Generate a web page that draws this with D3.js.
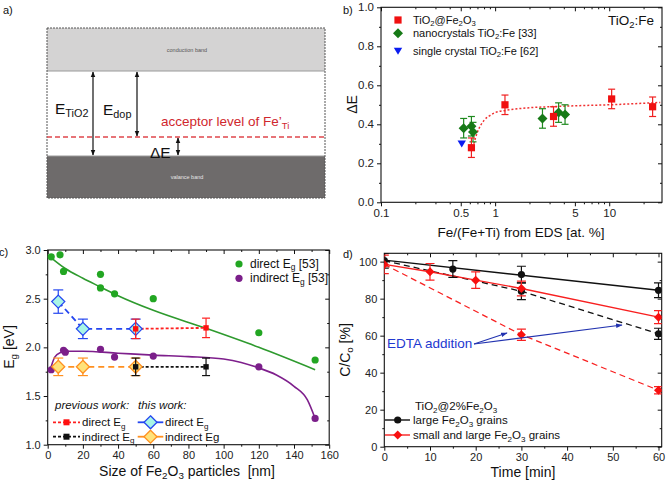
<!DOCTYPE html>
<html><head><meta charset="utf-8">
<script src="https://cdn.jsdelivr.net/npm/d3@7"></script>
<style>body{margin:0;background:#fff}svg{display:block}text{font-family:"Liberation Sans",Arial,sans-serif}</style>
</head><body><svg id="c" width="666" height="488"></svg>
<script>
// ---------- DATA ----------
// panel b
const bRedX = [0.62, 1.22, 3.25, 10.5, 24];
const bRedY = [0.28, 0.50, 0.44, 0.53, 0.49];
const bRedErr = [0.05, 0.05, 0.05, 0.05, 0.05];
const bGreenX = [0.53, 0.62, 0.64, 2.6, 3.6, 4.1];
const bGreenY = [0.38, 0.39, 0.36, 0.43, 0.46, 0.45];
const bGreenErr = [0.05, 0.05, 0.05, 0.05, 0.05, 0.05];
const bBlueX = [0.51];
const bBlueY = [0.30];
const bFitX = [0.65, 0.7, 0.8, 0.9, 1.0, 1.2, 1.5, 2, 3, 5, 10, 20, 28];
const bFitY = [0.30, 0.36, 0.42, 0.445, 0.46, 0.47, 0.478, 0.485, 0.49, 0.495, 0.50, 0.508, 0.512];
const bXMajor = [0.1, 0.5, 1, 5, 10];
const bXMajorLabels = ["0.1", "0.5", "1", "5", "10"];
const bXMinor = [0.2, 0.3, 0.4, 0.6, 0.7, 0.8, 0.9, 2, 3, 4, 6, 7, 8, 9, 20];
const bYMajor = [0, 0.2, 0.4, 0.6, 0.8, 1.0];
const bYMinor = [0.1, 0.3, 0.5, 0.7, 0.9];
// panel c
const cDirX = [2, 7, 9, 30, 30, 38, 60, 120, 152];
const cDirY = [2.93, 2.95, 2.78, 2.75, 2.61, 2.55, 2.50, 2.15, 1.87];
const cIndX = [2, 9, 10, 30, 38, 60, 120, 152];
const cIndY = [1.77, 1.97, 1.95, 1.98, 1.90, 1.91, 1.80, 1.27];
const cDirFitX = [2, 10, 20, 30, 40, 60, 90, 120, 152];
const cDirFitY = [2.92, 2.81, 2.71, 2.62, 2.53, 2.38, 2.195, 2.0, 1.77];
const cIndFitX = [1.3, 4, 7, 11, 20, 40, 60, 80, 100, 110, 119, 130, 140, 147.6, 152];
const cIndFitY = [1.76, 1.90, 1.945, 1.96, 1.96, 1.94, 1.92, 1.905, 1.88, 1.845, 1.795, 1.716, 1.60, 1.46, 1.27];
const cPrevDirX = [50, 90], cPrevDirY = [2.19, 2.20], cPrevDirErr = [0.1, 0.1];
const cPrevIndX = [50, 90], cPrevIndY = [1.80, 1.80], cPrevIndErr = [0.09, 0.09];
const cThisDirX = [6, 20, 50], cThisDirY = [2.47, 2.19, 2.19], cThisDirErr = [0.12, 0.1, 0.1];
const cThisIndX = [6, 20, 50], cThisIndY = [1.80, 1.80, 1.80], cThisIndErr = [0.09, 0.09, 0.09];
const cXMajor = [0, 20, 40, 60, 80, 100, 120, 140, 160];
const cXMinor = [10, 30, 50, 70, 90, 110, 130, 150];
const cYMajor = [1.0, 1.5, 2.0, 2.5, 3.0];
const cYMinor = [1.25, 1.75, 2.25, 2.75];
// panel d
const dBlackT = [0, 15, 30, 60], dBlackV = [100.5, 96, 93, 84.5], dBlackErr = [4, 4.5, 4.5, 4];
const dBlackFitT = [0, 60], dBlackFitV = [100.8, 84.5];
const dBlackEdtaT = [0, 30, 60], dBlackEdtaV = [100.5, 84, 61], dBlackEdtaErr = [4, 4.5, 3];
const dRedT = [0, 10, 20, 30, 60], dRedV = [98.5, 94.5, 90, 85.5, 70], dRedErr = [5, 4.5, 4.5, 4, 3.5];
const dRedEdtaT = [0, 30, 60], dRedEdtaV = [98.5, 60.5, 30.5], dRedEdtaErr = [5, 3, 2];
const dXMajor = [0, 10, 20, 30, 40, 50, 60];
const dXMinor = [5, 15, 25, 35, 45, 55];
const dYMajor = [0, 20, 40, 60, 80, 100];
const dYMinor = [10, 30, 50, 70, 90];

// ---------- HELPERS ----------
const svg = d3.select("#c");
function rich(sel, parts, fs) {
  let shift = 0;
  parts.forEach(p => {
    const t = Array.isArray(p) ? p[0] : p, k = Array.isArray(p) ? p[1] : null;
    const target = k === "sub" ? fs * 0.22 : k === "sup" ? -fs * 0.35 : 0;
    const ts = sel.append("tspan").text(t).attr("dy", target - shift);
    if (k) ts.attr("font-size", fs * 0.7);
    shift = target;
  });
  return sel;
}
function txt(g, x, y, parts, fs, opts = {}) {
  const t = g.append("text").attr("x", x).attr("y", y).attr("font-size", fs)
    .attr("fill", opts.fill || "#111").attr("text-anchor", opts.anchor || "start");
  if (opts.italic) t.attr("font-style", "italic");
  if (opts.rotate) t.attr("transform", `rotate(-90,${x},${y})`);
  return rich(t, parts, fs);
}
function frame(g, x, y, o) {
  const [x0, x1] = x.range(), [y0, y1] = y.range();
  const clean = s => { s.select(".domain").remove(); s.selectAll("line").attr("stroke", "#111"); s.selectAll("text").attr("font-size", o.fs || 11).attr("fill", "#222").attr("font-family", '"Liberation Sans",Arial,sans-serif'); };
  g.append("g").attr("transform", `translate(0,${y0})`).call(d3.axisBottom(x).tickValues(o.xMajor).tickSize(4).tickPadding(3).tickFormat((d, i) => o.xLabels ? o.xLabels[i] : d)).call(clean);
  g.append("g").attr("transform", `translate(0,${y0})`).call(d3.axisBottom(x).tickValues(o.xMinor).tickSize(2).tickFormat("")).call(clean);
  g.append("g").attr("transform", `translate(${x0},0)`).call(d3.axisLeft(y).tickValues(o.yMajor).tickSize(4).tickPadding(3).tickFormat(o.yFmt)).call(clean);
  g.append("g").attr("transform", `translate(${x0},0)`).call(d3.axisLeft(y).tickValues(o.yMinor).tickSize(2).tickFormat("")).call(clean);
  g.append("g").attr("transform", `translate(0,${y1})`).call(d3.axisTop(x).tickValues(o.xMajor).tickSize(-4).tickFormat("")).call(clean);
  g.append("g").attr("transform", `translate(0,${y1})`).call(d3.axisTop(x).tickValues(o.xMinor).tickSize(-2).tickFormat("")).call(clean);
  g.append("g").attr("transform", `translate(${x1},0)`).call(d3.axisRight(y).tickValues(o.yMajor).tickSize(-4).tickFormat("")).call(clean);
  g.append("g").attr("transform", `translate(${x1},0)`).call(d3.axisRight(y).tickValues(o.yMinor).tickSize(-2).tickFormat("")).call(clean);
  g.append("rect").attr("x", x0).attr("y", y1).attr("width", x1 - x0).attr("height", y0 - y1).attr("fill", "none").attr("stroke", "#111").attr("stroke-width", 1.1);
}
function errBars(g, x, y, xs, ys, es, color, cap) {
  xs.forEach((xv, i) => {
    const cx = x(xv), ya = y(ys[i] + es[i]), yb = y(ys[i] - es[i]);
    g.append("line").attr("x1", cx).attr("x2", cx).attr("y1", ya).attr("y2", yb).attr("stroke", color).attr("stroke-width", 1.2);
    [ya, yb].forEach(yy => g.append("line").attr("x1", cx - cap).attr("x2", cx + cap).attr("y1", yy).attr("y2", yy).attr("stroke", color).attr("stroke-width", 1.2));
  });
}
function marker(g, type, cx, cy, s, fill, stroke, sw) {
  let el;
  if (type === "circle") el = g.append("circle").attr("cx", cx).attr("cy", cy).attr("r", s);
  else if (type === "square") el = g.append("rect").attr("x", cx - s).attr("y", cy - s).attr("width", 2 * s).attr("height", 2 * s);
  else if (type === "diamond") el = g.append("path").attr("d", `M${cx},${cy - s}L${cx + s},${cy}L${cx},${cy + s}L${cx - s},${cy}Z`);
  else if (type === "tri") el = g.append("path").attr("d", `M${cx - s},${cy - s * 0.8}L${cx + s},${cy - s * 0.8}L${cx},${cy + s * 0.9}Z`);
  el.attr("fill", fill).attr("stroke", stroke || "none").attr("stroke-width", sw || 0);
  return el;
}
function pline(g, x, y, xs, ys, color, w, dash, curve) {
  const l = d3.line().x(d => x(d[0])).y(d => y(d[1])).curve(curve || d3.curveLinear);
  g.append("path").attr("d", l(xs.map((v, i) => [v, ys[i]]))).attr("fill", "none").attr("stroke", color).attr("stroke-width", w).attr("stroke-dasharray", dash || null);
}

// ---------- PANEL A ----------
const ga = svg.append("g");
txt(ga, 3, 14, ["a)"], 11);
const ax0 = 47, ax1 = 325, ayT = 28, ayB = 198, cbB = 71, vbT = 156, accY = 137;
ga.append("rect").attr("x", ax0).attr("y", ayT).attr("width", ax1 - ax0).attr("height", ayB - ayT).attr("fill", "#fff");
ga.append("rect").attr("x", ax0).attr("y", ayT).attr("width", ax1 - ax0).attr("height", cbB - ayT).attr("fill", "#d4d3d3");
ga.append("line").attr("x1", ax0).attr("x2", ax1).attr("y1", cbB).attr("y2", cbB).attr("stroke", "#9a9a9a").attr("stroke-width", 1);
ga.append("rect").attr("x", ax0).attr("y", vbT).attr("width", ax1 - ax0).attr("height", ayB - vbT).attr("fill", "#6e6b6b");
ga.append("line").attr("x1", ax0).attr("x2", ax1).attr("y1", vbT).attr("y2", vbT).attr("stroke", "#9a9a9a").attr("stroke-width", 1);
ga.append("rect").attr("x", ax0).attr("y", ayT).attr("width", ax1 - ax0).attr("height", ayB - ayT).attr("fill", "none").attr("stroke", "#555").attr("stroke-width", 1).attr("stroke-dasharray", "2,1");
ga.append("line").attr("x1", ax0).attr("x2", ax1).attr("y1", accY).attr("y2", accY).attr("stroke", "#e0474c").attr("stroke-width", 1.5).attr("stroke-dasharray", "5,3");
txt(ga, 187, 52, ["conduction band"], 5.5, { anchor: "middle", fill: "#555" });
txt(ga, 187, 179, ["valance band"], 5.5, { anchor: "middle", fill: "#e6e6e6" });
svg.append("defs").html(`
<marker id="ah" viewBox="0 0 10 10" refX="9" refY="5" markerWidth="5" markerHeight="5" orient="auto-start-reverse"><path d="M0,1L10,5L0,9Z" fill="#111"/></marker>
<marker id="ahb" viewBox="0 0 10 10" refX="9" refY="5" markerWidth="6" markerHeight="6" orient="auto"><path d="M0,1.5L10,5L0,8.5Z" fill="#2233b0"/></marker>`);
[[93, cbB, vbT], [137, cbB, accY], [178, accY, vbT]].forEach(([x, y1, y2]) => {
  ga.append("line").attr("x1", x).attr("x2", x).attr("y1", y1 + 1).attr("y2", y2 - 1).attr("stroke", "#111").attr("stroke-width", 1.2)
    .attr("marker-start", "url(#ah)").attr("marker-end", "url(#ah)");
});
txt(ga, 55, 114, ["E", ["TiO2", "sub"]], 15.5);
txt(ga, 103, 115, ["E", ["dop", "sub"]], 15.5);
txt(ga, 161, 126, ["acceptor level of Fe’", ["Ti", "sub"]], 13.5, { fill: "#d0272e" });
txt(ga, 150, 158, ["ΔE"], 15.5);

// ---------- PANEL B ----------
const gb = svg.append("g");
const xb = d3.scaleLog().domain([0.1, 29]).range([381, 662]);
const yb = d3.scaleLinear().domain([0, 1]).range([202.3, 7.3]);
frame(gb, xb, yb, { xMajor: bXMajor, xLabels: bXMajorLabels, xMinor: bXMinor, yMajor: bYMajor, yMinor: bYMinor, yFmt: d3.format(".1f"), fs: 11.5 });
pline(gb, xb, yb, bFitX, bFitY, "#f03030", 1.5, "2,2", d3.curveMonotoneX);
errBars(gb, xb, yb, bGreenX, bGreenY, bGreenErr, "#1f8a1f", 3.5);
bGreenX.forEach((v, i) => marker(gb, "diamond", xb(v), yb(bGreenY[i]), 5, "#177a17"));
errBars(gb, xb, yb, bRedX, bRedY, bRedErr, "#f02020", 3.5);
bRedX.forEach((v, i) => marker(gb, "square", xb(v), yb(bRedY[i]), 3.6, "#f01010"));
bBlueX.forEach((v, i) => marker(gb, "tri", xb(v), yb(bBlueY[i]), 4.2, "#0a1cf0"));
marker(gb, "square", 398, 20, 3.6, "#f01010");
marker(gb, "diamond", 398, 33.3, 5, "#177a17");
marker(gb, "tri", 398, 51, 4.2, "#0a1cf0");
txt(gb, 413, 23.5, ["TiO", ["2", "sub"], "@Fe", ["2", "sub"], "O", ["3", "sub"]], 11);
txt(gb, 413, 37, ["nanocrystals TiO", ["2", "sub"], ":Fe [33]"], 11);
txt(gb, 413, 54.5, ["single crystal TiO", ["2", "sub"], ":Fe [62]"], 11);
txt(gb, 608, 25, ["TiO", ["2", "sub"], ":Fe"], 13.5);
txt(gb, 343, 14, ["b)"], 11);
txt(gb, 357, 104.5, ["ΔE"], 14, { anchor: "middle", rotate: true });
txt(gb, 521, 237, ["Fe/(Fe+Ti) from EDS [at. %]"], 13.5, { anchor: "middle" });

// ---------- PANEL C ----------
const gc = svg.append("g");
const xc = d3.scaleLinear().domain([0, 160]).range([47.7, 329.2]);
const yc = d3.scaleLinear().domain([1, 3]).range([444.7, 250]);
frame(gc, xc, yc, { xMajor: cXMajor, xMinor: cXMinor, yMajor: cYMajor, yMinor: cYMinor, yFmt: d3.format(".1f"), fs: 11 });
pline(gc, xc, yc, cDirFitX, cDirFitY, "#2e9a2e", 1.6, null, d3.curveMonotoneX);
pline(gc, xc, yc, cIndFitX, cIndFitY, "#7e1f8c", 1.6, null, d3.curveMonotoneX);
cDirX.forEach((v, i) => marker(gc, "circle", xc(v), yc(cDirY[i]), 3.6, "#22a622"));
cIndX.forEach((v, i) => marker(gc, "circle", xc(v), yc(cIndY[i]), 3.6, "#7b1f8a"));
pline(gc, xc, yc, cThisDirX, cThisDirY, "#2446f0", 1.8, "6,4");
pline(gc, xc, yc, cThisIndX, cThisIndY, "#ff9020", 1.8, "6,4");
pline(gc, xc, yc, cPrevDirX, cPrevDirY, "#ff2020", 1.8, "3,2");
pline(gc, xc, yc, cPrevIndX, cPrevIndY, "#111", 1.8, "3,2");
errBars(gc, xc, yc, cThisDirX, cThisDirY, cThisDirErr, "#2446f0", 5);
errBars(gc, xc, yc, cThisIndX, cThisIndY, cThisIndErr, "#ff9020", 5);
cThisDirX.forEach((v, i) => marker(gc, "diamond", xc(v), yc(cThisDirY[i]), 6.5, "#a8f5e6", "#2446f0", 1.3));
cThisIndX.forEach((v, i) => marker(gc, "diamond", xc(v), yc(cThisIndY[i]), 6.5, "#ffe27a", "#ff9020", 1.3));
errBars(gc, xc, yc, cPrevDirX, cPrevDirY, cPrevDirErr, "#ff2020", 4);
errBars(gc, xc, yc, cPrevIndX, cPrevIndY, cPrevIndErr, "#111", 4);
cPrevDirX.forEach((v, i) => marker(gc, "square", xc(v), yc(cPrevDirY[i]), 2.7, "#ff1010"));
cPrevIndX.forEach((v, i) => marker(gc, "square", xc(v), yc(cPrevIndY[i]), 2.7, "#111"));
// legends
marker(gc, "circle", 239, 264, 3.6, "#22a622");
marker(gc, "circle", 239, 278.3, 3.6, "#7b1f8a");
txt(gc, 250, 267.5, ["direct E", ["g", "sub"], " [53]"], 12);
txt(gc, 250, 282, ["indirect E", ["g", "sub"], " [53]"], 12);
txt(gc, 55, 409, ["previous work:"], 11.5, { italic: true });
txt(gc, 138, 409, ["this work:"], 11.5, { italic: true });
const legC = [
  [53, 80, 422.3, "#ff2020", "3,2", "square", "#ff1010", null, "direct E", 82],
  [53, 80, 436.7, "#111", "3,2", "square", "#111", null, "indirect E", 82],
  [137.7, 163.3, 422.3, "#2446f0", null, "diamond", "#a8f5e6", "#2446f0", "direct E", 165],
  [137.7, 163.3, 436.7, "#ff9020", null, "diamond", "#ffe27a", "#ff9020", "indirect Eg", 165]
];
legC.forEach(([a, b, y, col, dash, mt, fill, st, label, tx]) => {
  gc.append("line").attr("x1", a).attr("x2", b).attr("y1", y).attr("y2", y).attr("stroke", col).attr("stroke-width", 1.8).attr("stroke-dasharray", dash);
  if (mt === "square") marker(gc, "square", (a + b) / 2, y, 3, fill);
  else marker(gc, "diamond", (a + b) / 2, y, 6.5, fill, st, 1.3);
  if (label === "indirect Eg") txt(gc, tx, y + 4, [label], 11.5);
  else txt(gc, tx, y + 4, [label, ["g", "sub"]], 11.5);
});
txt(gc, -1, 256, ["c)"], 11);
txt(gc, 14, 347, ["E", ["g", "sub"], " [eV]"], 14, { anchor: "middle", rotate: true });
txt(gc, 187, 476, ["Size of Fe", ["2", "sub"], "O", ["3", "sub"], " particles\u00a0 [nm]"], 14, { anchor: "middle" });

// ---------- PANEL D ----------
const gd = svg.append("g");
const xd = d3.scaleLinear().domain([0, 60.7]).range([384.3, 661.7]);
const yd = d3.scaleLinear().domain([0, 104.5]).range([446.7, 253.3]);
frame(gd, xd, yd, { xMajor: dXMajor, xMinor: dXMinor, yMajor: dYMajor, yMinor: dYMinor, yFmt: d3.format("d"), fs: 11 });
svg.append("defs").append("clipPath").attr("id", "clipd").append("rect").attr("x", 384.3).attr("y", 253.3).attr("width", 277.4).attr("height", 193.4);
const gdp = gd.append("g").attr("clip-path", "url(#clipd)");
pline(gdp, xd, yd, dRedEdtaT, dRedEdtaV, "#f82020", 1.3, "6,4");
pline(gdp, xd, yd, dBlackEdtaT, dBlackEdtaV, "#111", 1.3, "6,4");
pline(gdp, xd, yd, dBlackFitT, dBlackFitV, "#111", 1.4);
pline(gdp, xd, yd, dRedT, dRedV, "#f82020", 1.4);
errBars(gdp, xd, yd, dBlackT, dBlackV, dBlackErr, "#111", 4.5);
errBars(gdp, xd, yd, dBlackEdtaT.slice(1), dBlackEdtaV.slice(1), dBlackEdtaErr.slice(1), "#111", 4.5);
errBars(gdp, xd, yd, dRedT, dRedV, dRedErr, "#f82020", 4.5);
errBars(gdp, xd, yd, dRedEdtaT.slice(1), dRedEdtaV.slice(1), dRedEdtaErr.slice(1), "#f82020", 4.5);
dBlackT.forEach((v, i) => marker(gdp, "circle", xd(v), yd(dBlackV[i]), 3.6, "#111"));
dBlackEdtaT.slice(1).forEach((v, i) => marker(gdp, "circle", xd(v), yd(dBlackEdtaV[i + 1]), 3.6, "#111"));
dRedT.forEach((v, i) => marker(gdp, "diamond", xd(v), yd(dRedV[i]), 4.5, "#f81010"));
dRedEdtaT.slice(1).forEach((v, i) => marker(gdp, "diamond", xd(v), yd(dRedEdtaV[i + 1]), 4.5, "#f81010"));
// annotation
txt(gd, 387, 348, ["EDTA addition"], 13.5, { fill: "#2238d0" });
[[507, 333], [622, 325]].forEach(([x2, y2]) => {
  gd.append("line").attr("x1", 474).attr("y1", 344).attr("x2", x2).attr("y2", y2).attr("stroke", "#2233b0").attr("stroke-width", 1.1).attr("marker-end", "url(#ahb)");
});
// legend
txt(gd, 415, 410, ["TiO", ["2", "sub"], "@2%Fe", ["2", "sub"], "O", ["3", "sub"]], 11.5);
gd.append("line").attr("x1", 385).attr("x2", 410).attr("y1", 420).attr("y2", 420).attr("stroke", "#111").attr("stroke-width", 1.4);
marker(gd, "circle", 397.7, 420, 3.6, "#111");
txt(gd, 413, 424, ["large Fe", ["2", "sub"], "O", ["3", "sub"], " grains"], 11.5);
gd.append("line").attr("x1", 385).attr("x2", 410).attr("y1", 435).attr("y2", 435).attr("stroke", "#f82020").attr("stroke-width", 1.4);
marker(gd, "diamond", 397.7, 435, 4.5, "#f81010");
txt(gd, 413, 439, ["small and large Fe", ["2", "sub"], "O", ["3", "sub"], " grains"], 11.5);
txt(gd, 343, 258, ["d)"], 11);
txt(gd, 350, 350, ["C/C", ["o", "sub"], " [%]"], 14, { anchor: "middle", rotate: true });
txt(gd, 523, 477, ["Time [min]"], 14, { anchor: "middle" });
</script></body></html>
